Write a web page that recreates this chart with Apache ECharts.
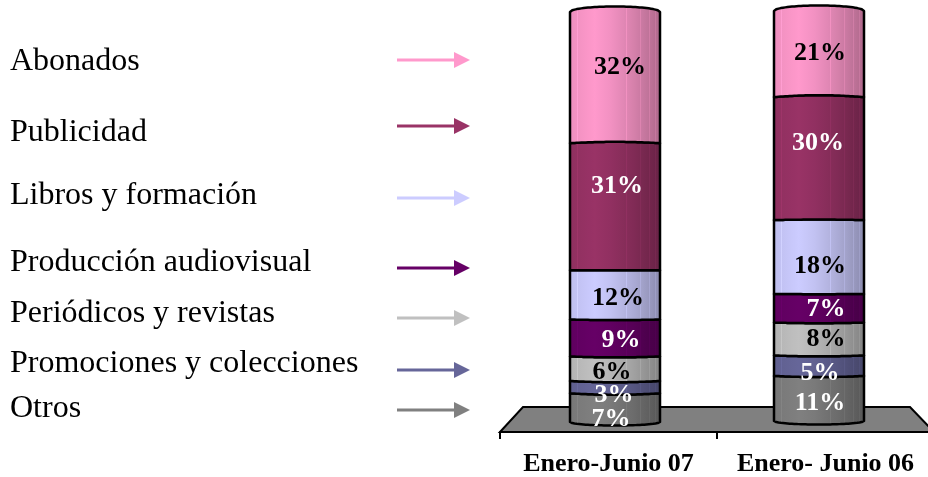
<!DOCTYPE html>
<html><head><meta charset="utf-8">
<style>html,body{margin:0;padding:0;background:#fff}#c{width:928px;height:477px}</style>
<script src="https://cdn.jsdelivr.net/npm/echarts@6/dist/echarts.min.js"></script>
</head><body><div id="c"></div>
<script>
const categories = ['Enero-Junio 07', 'Enero- Junio 06'];
const seriesNames = ['Abonados','Publicidad','Libros y formación','Producción audiovisual','Periódicos y revistas','Promociones y colecciones','Otros'];
const abonados = [32, 21];
const publicidad = [31, 30];
const libros = [12, 18];
const produccion = [9, 7];
const periodicos = [6, 8];
const promociones = [3, 5];
const otros = [7, 11];
const allValues = [abonados, publicidad, libros, produccion, periodicos, promociones, otros];

const colors = ['#FF99CC','#993366','#CCCCFF','#660066','#C0C0C0','#666699','#808080'];
const labelColors = ['#000','#fff','#000','#fff','#000','#fff','#fff'];
const legendTextY = [60,131,194,261,312,362,407];
const legendArrowY = [60,126,198,268,318,370,410];
// perspective shift of each cylinder relative to its axis band
const barShift = [[6.5,1],[-6.5,0]];
const barWidth = 90;
// hand placement of the percent labels relative to the segment centre [dx,dy]
const labelNudge = [
  [[5,-12],[1,-2]],
  [[2,-22],[-1,-17]],
  [[3,2],[1,8]],
  [[6,1],[7,0]],
  [[-3,2],[7,-1]],
  [[-1,7],[1,6]],
  [[-4,10],[1,3]]
];
const SERIF = '"Liberation Serif","Times New Roman",serif';

function shade(hex,f){
  const n=parseInt(hex.slice(1),16);
  const c=[n>>16,(n>>8)&255,n&255].map(v=>Math.min(255,Math.round(v*f)));
  return 'rgb('+c.join(',')+')';
}
const shadeStops=[[0,.93],[.28,1],[.45,.95],[.7,.84],[1,.68]];
const stripes=[.035,.09,.23,.62,.78,.87,.94];
function factorAt(t){
  for(let i=1;i<shadeStops.length;i++){
    if(t<=shadeStops[i][0]){
      const a=shadeStops[i-1],b=shadeStops[i];
      return a[1]+(b[1]-a[1])*(t-a[0])/(b[0]-a[0]);
    }
  }
  return shadeStops[shadeStops.length-1][1];
}
function gradient(hex){
  const stops=[];
  const marks=shadeStops.map(s=>({p:s[0],s:false})).concat(stripes.map(p=>({p,s:true}))).sort((a,b)=>a.p-b.p);
  marks.forEach(m=>{
    const f=factorAt(m.p);
    if(m.s){
      const w=.005;
      stops.push({offset:m.p-w,color:shade(hex,f)});
      stops.push({offset:m.p-w,color:shade(hex,f*1.06+.02)});
      stops.push({offset:m.p+w,color:shade(hex,f*1.06+.02)});
      stops.push({offset:m.p+w,color:shade(hex,f)});
    } else stops.push({offset:m.p,color:shade(hex,f)});
  });
  return {type:'linear',x:0,y:0,x2:1,y2:0,colorStops:stops};
}
function isCap(v){ return v>=100 || v<=0; }
function bow(y,v){
  if(v>=100) return -5.5;
  if(v<=0) return 3.5;
  return (y-270)*0.011;
}
function curve(xL,xR,y,b,n,cap){
  const pts=[];
  for(let i=0;i<=n;i++){
    const t=i/n, q=1-Math.pow(2*t-1,2), k=cap?Math.sqrt(q):q;
    pts.push([xL+(xR-xL)*t,y+b*k]);
  }
  return pts;
}
function renderSeg(si){
  return function(params,api){
    const cat=api.value(0), start=api.value(1), end=api.value(2), val=api.value(3);
    const shift=barShift[cat];
    const pB=api.coord([cat,start]), pT=api.coord([cat,end]);
    const cx=pB[0]+shift[0], yB=pB[1]+shift[1], yT=pT[1]+shift[1];
    const xL=cx-barWidth/2, xR=cx+barWidth/2;
    const top=curve(xL,xR,yT,bow(yT,end),40,isCap(end));
    const bot=curve(xL,xR,yB,bow(yB,start),40,isCap(start)).reverse();
    const nudge=labelNudge[si][cat];
    return {type:'group',children:[
      {type:'polygon',shape:{points:top.concat(bot)},
       style:{fill:gradient(colors[si]),stroke:'#000',lineWidth:2.5,lineJoin:'round'}},
      {type:'text',z2:100,silent:true,
       style:{text:val+'%',x:cx+nudge[0],y:(yB+yT)/2+nudge[1]+1.5,align:'center',verticalAlign:'middle',
         font:'bold 26px '+SERIF,fill:labelColors[si]}}
    ]};
  };
}
const n=seriesNames.length;
const series=[{
  type:'custom',name:'floor',coordinateSystem:'cartesian2d',z:1,silent:true,data:[[0,0]],
  renderItem(p,api){
    const c=p.coordSys, yB=c.y+c.height+11;
    return {type:'polygon',shape:{points:[[c.x,yB],[c.x+23,yB-25],[c.x+c.width-24,yB-25],[c.x+c.width,yB]]},
      style:{fill:'#808080',stroke:'#000',lineWidth:2}};
  }
}];
const base=[0,0];
for(let si=n-1;si>=0;si--){
  const data=categories.map((_,c)=>{
    const d=[c,base[c],base[c]+allValues[si][c],allValues[si][c]];
    base[c]+=allValues[si][c];
    return d;
  });
  series.push({type:'custom',name:seriesNames[si],coordinateSystem:'cartesian2d',z:2,silent:true,
    encode:{x:0,y:[1,2]},data,renderItem:renderSeg(si)});
}
const graphic=[];
seriesNames.forEach((name,i)=>{
  graphic.push({type:'text',left:10,top:legendTextY[i]-14,
    style:{text:name,font:'32px '+SERIF,fill:'#000',verticalAlign:'top'}});
  const y=legendArrowY[i];
  graphic.push({type:'line',shape:{x1:397,y1:y,x2:456,y2:y},style:{stroke:colors[i],lineWidth:2.8}});
  graphic.push({type:'polygon',shape:{points:[[454,y-8],[470,y],[454,y+8]]},style:{fill:colors[i]}});
});
const chart=echarts.init(document.getElementById('c'),null,{renderer:'canvas'});
chart.setOption({
  animation:false,
  backgroundColor:'#fff',
  grid:{left:500,top:11,width:434,height:410,outerBoundsMode:'none'},
  xAxis:{type:'category',data:categories,offset:11,z:5,
    axisLine:{onZero:false,lineStyle:{color:'#000',width:2}},
    axisTick:{show:true,alignWithLabel:false,length:7,lineStyle:{color:'#000',width:2}},
    axisLabel:{interval:0,margin:19,color:'#000',fontFamily:SERIF,fontWeight:'bold',fontSize:26}},
  yAxis:{type:'value',min:0,max:100,show:false},
  graphic,
  series
});
</script></body></html>
